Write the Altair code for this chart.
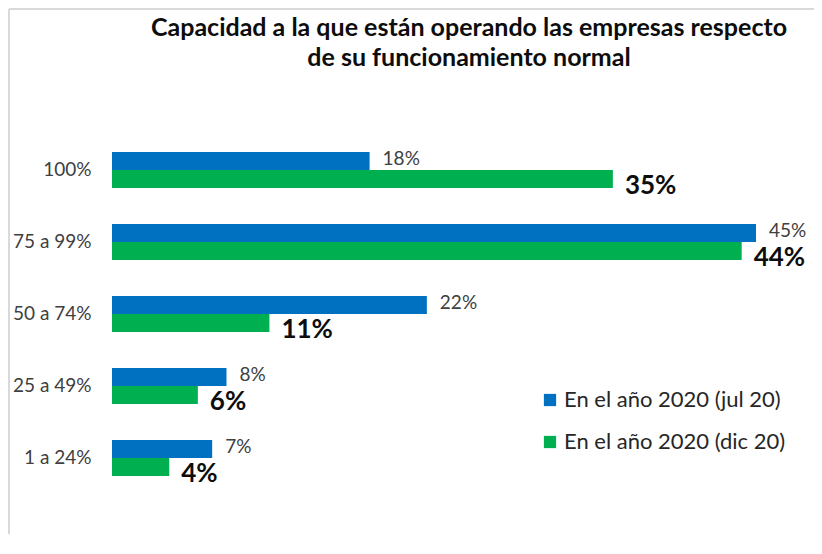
import altair as alt
import pandas as pd

categories = ["100%", "75 a 99%", "50 a 74%", "25 a 49%", "1 a 24%"]
series = ["En el año 2020 (jul 20)", "En el año 2020 (dic 20)"]
jul_values = [18, 45, 22, 8, 7]
dic_values = [35, 44, 11, 6, 4]
colors = ["#0070C0", "#00B050"]
title_lines = ["Capacidad a la que están operando las empresas respecto",
               "de su funcionamiento normal"]

rows = []
for c, j, d in zip(categories, jul_values, dic_values):
    rows.append({"cat": c, "serie": series[0], "val": j, "lab": f"{j}%"})
    rows.append({"cat": c, "serie": series[1], "val": d, "lab": f"{d}%"})
df = pd.DataFrame(rows)

FONT = "Lato"

yenc = alt.Y("cat:N", sort=categories, title=None,
             scale=alt.Scale(paddingInner=0.5, paddingOuter=0.25),
             axis=alt.Axis(domain=False, ticks=False, labelPadding=21,
                           labelFontSize=19, labelColor="#404040",
                           labelFont=FONT))
yoff = alt.YOffset("serie:N", sort=series, scale=alt.Scale(domain=series))
xenc = alt.X("val:Q", title=None, scale=alt.Scale(domain=[0, 45], nice=False),
             axis=None)

base = alt.Chart(df)

bars = base.mark_bar().encode(
    x=xenc, y=yenc, yOffset=yoff,
    color=alt.Color("serie:N", sort=series,
                    scale=alt.Scale(domain=series, range=colors),
                    legend=alt.Legend(title=None, orient="none",
                                      legendX=427, legendY=255,
                                      symbolType="square", symbolSize=150,
                                      symbolStrokeWidth=0, labelFontSize=22,
                                      labelFont=FONT, labelColor="#262626",
                                      labelLimit=0,
                                      rowPadding=20, labelOffset=3)),
)

lab_jul = base.transform_filter(alt.datum.serie == series[0]).mark_text(
    align="left", baseline="middle", dx=13, dy=-2, fontSize=19,
    font=FONT, color="#404040"
).encode(x=xenc, y=yenc, yOffset=yoff, text="lab:N")

lab_dic = base.transform_filter(alt.datum.serie == series[1]).mark_text(
    align="left", baseline="middle", dx=12, dy=7, fontSize=26,
    fontWeight="bold", font=FONT, color="#0d0d0d"
).encode(x=xenc, y=yenc, yOffset=yoff, text="lab:N")

one = pd.DataFrame({"k": [0]})
title1 = alt.Chart(one).mark_text(
    text=title_lines[0], align="center", baseline="middle", fontSize=25,
    fontWeight="bold", font=FONT, color="#0d0d0d"
).encode(x=alt.value(357), y=alt.value(-106))
title2 = alt.Chart(one).mark_text(
    text=title_lines[1], align="center", baseline="middle", fontSize=25,
    fontWeight="bold", font=FONT, color="#0d0d0d"
).encode(x=alt.value(357), y=alt.value(-76))

border_left = alt.Chart(one).mark_rule(color="#d9d9d9", strokeWidth=2).encode(
    x=alt.value(-103), y=alt.value(-125), y2=alt.value(420))
border_top = alt.Chart(one).mark_rule(color="#d9d9d9", strokeWidth=2).encode(
    x=alt.value(-103), x2=alt.value(720), y=alt.value(-125))

chart = alt.layer(border_left, border_top, bars, lab_jul, lab_dic,
                  title1, title2).properties(
    width=644, height=360,
    autosize=alt.AutoSizeParams(type="none"),
    padding={"left": 104, "top": 126, "right": 58, "bottom": 40},
    background="white",
).configure_view(strokeWidth=0, stroke=None)

chart.save("out.html", embed_options={"renderer": "svg", "actions": False})
